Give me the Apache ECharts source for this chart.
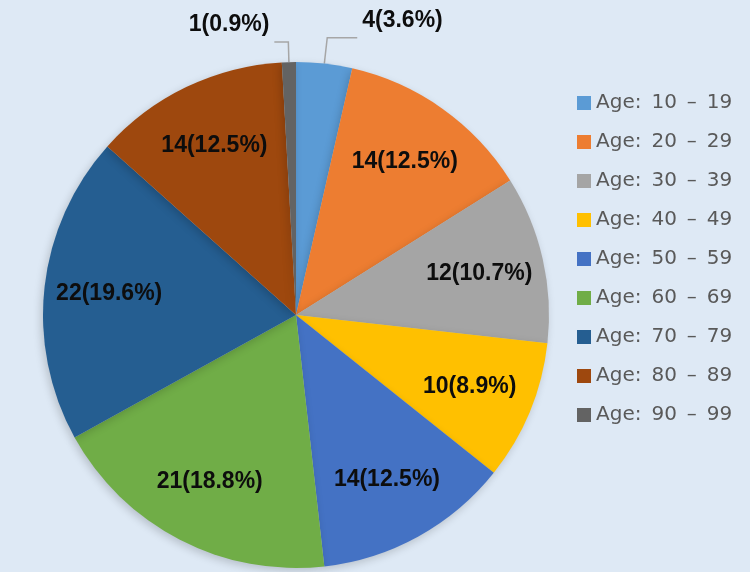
<!DOCTYPE html>
<html lang="en">
<head>
    <meta charset="UTF-8">
    <title>Age distribution</title>
    <script src="https://cdn.jsdelivr.net/npm/echarts@6/dist/echarts.min.js"></script>
    <style>
        html, body { margin: 0; padding: 0; background: #dee9f5; }
    </style>
</head>
<body>
    <div id="main" style="width: 750px;height: 572px;"></div>

    <script>
        // data
        let ageGroups = ['Age:\u200210\u2002–\u200219', 'Age:\u200220\u2002–\u200229', 'Age:\u200230\u2002–\u200239',
                         'Age:\u200240\u2002–\u200249', 'Age:\u200250\u2002–\u200259', 'Age:\u200260\u2002–\u200269',
                         'Age:\u200270\u2002–\u200279', 'Age:\u200280\u2002–\u200289', 'Age:\u200290\u2002–\u200299'];
        let counts = [4, 14, 12, 10, 14, 21, 22, 14, 1];
        let colors = ['#5b9bd5', '#ed7d31', '#a5a5a5', '#ffc000', '#4472c4',
                      '#70ad47', '#255e91', '#9e480e', '#636363'];
        // the two small slices get their label outside with a leader line
        let outsideIdx = [0, 8];

        let mainData = [];
        let labelData = [];
        for (let i = 0; i < ageGroups.length; i++) {
            let outside = outsideIdx.indexOf(i) >= 0;
            let item = {value: counts[i], name: ageGroups[i], itemStyle: {color: colors[i]}};
            if (outside) {
                // empty second line lifts the text above the leader line
                item.label = {show: true, formatter: '{c}({d}%)\n', lineHeight: 34};
                item.labelLine = {show: true, length: i === 0 ? 26 : 20, length2: i === 0 ? 30 : 14};
            }
            mainData.push(item);
            labelData.push({value: counts[i], name: ageGroups[i], label: {show: !outside}});
        }

        let mycharts = echarts.init(document.getElementById('main'));

        let options = {
            backgroundColor: '#dee9f5',
            legend: {
                orient: 'vertical',
                left: 577,
                top: 93,
                padding: 0,
                itemWidth: 14,
                itemHeight: 14,
                itemGap: 19,
                icon: 'rect',
                data: ageGroups,
                textStyle: {
                    color: '#595959',
                    fontSize: 20,
                    lineHeight: 20,
                    fontFamily: 'DejaVu Sans'
                }
            },
            series: [{
                name: 'Age',
                type: 'pie',
                center: [296, 315],
                radius: [0, 253],
                startAngle: 90,
                clockwise: true,
                avoidLabelOverlap: false,
                percentPrecision: 1,
                silent: true,
                itemStyle: {
                    borderWidth: 0,
                    shadowBlur: 8,
                    shadowOffsetX: -2,
                    shadowOffsetY: 3,
                    shadowColor: 'rgba(0,0,0,0.18)'
                },
                label: {
                    show: false,
                    position: 'outside',
                    formatter: '{c}({d}%)',
                    color: '#0d0d0d',
                    fontSize: 23,
                    fontWeight: 'bold',
                    fontFamily: 'Liberation Sans'
                },
                labelLine: {
                    show: false,
                    smooth: false,
                    lineStyle: {color: '#a6a6a6', width: 1.5}
                },
                data: mainData
            }, {
                // transparent ring that only carries the inner labels
                name: 'labels',
                type: 'pie',
                center: [296, 315],
                radius: [130, 240],
                startAngle: 90,
                clockwise: true,
                avoidLabelOverlap: false,
                percentPrecision: 1,
                silent: true,
                itemStyle: {color: 'rgba(0,0,0,0)'},
                label: {
                    position: 'inside',
                    formatter: '{c}({d}%)',
                    color: '#0d0d0d',
                    fontSize: 23,
                    fontWeight: 'bold',
                    fontFamily: 'Liberation Sans'
                },
                labelLine: {show: false},
                data: labelData
            }]
        };

        mycharts.setOption(options);
    </script>
</body>
</html>
